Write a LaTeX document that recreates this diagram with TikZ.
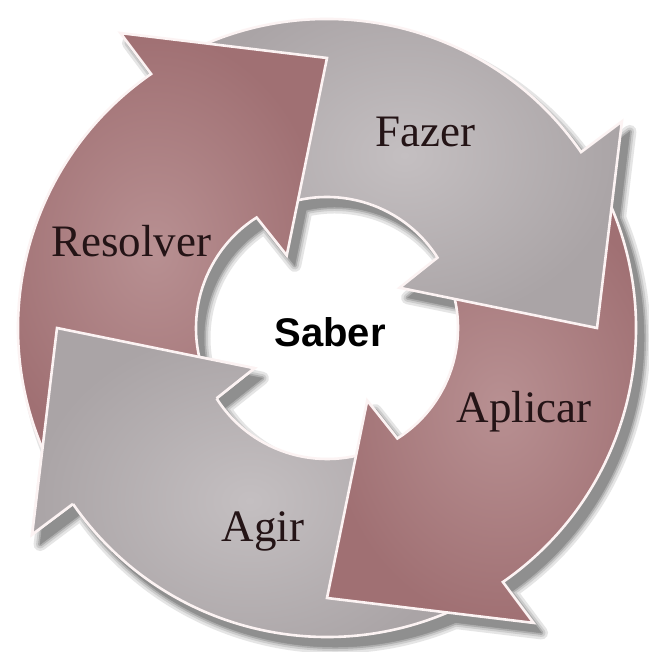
\documentclass[tikz,border=0pt]{standalone}
\usepackage{fontspec}
\setmainfont{Liberation Serif}
\newfontfamily\sabfont{Liberation Sans}
\usetikzlibrary{calc}
\definecolor{rosa}{RGB}{160,112,115}
\definecolor{rosain}{RGB}{184,144,146}
\definecolor{cinza}{RGB}{170,164,166}
\definecolor{cinzain}{RGB}{196,191,193}
\definecolor{contorno}{RGB}{252,243,243}
\definecolor{txtescuro}{RGB}{36,20,22}
\newcommand{\arrowshape}{(207:309) arc[start angle=207,end angle=124.7,radius=309] -- (125:360) -- (90:270) -- (119:83) -- (122.5:131) arc[start angle=122.5,end angle=207,radius=131] -- cycle}
\newcommand{\headshape}{(124.7:309) -- (125:360) -- (90:270) -- (119:83) -- (122.5:131) -- cycle}
\newcommand{\headedges}{(124.7:309) -- (125:360) -- (90:270) -- (119:83) -- (122.5:131)}
\tikzset{
  arrowbody/.style={draw=contorno, line width=2.6pt, line join=miter},
  labeltxt/.style={font=\fontsize{45}{50}\selectfont, text=txtescuro, anchor=base},
}
\newcommand{\drawarrow}[3]{%
  \begin{scope}[shift={(327,324)},rotate=#1]
    \shadedraw[arrowbody, inner color=#2, outer color=#3] \arrowshape;
  \end{scope}}
\begin{document}
\begin{tikzpicture}[x=1pt,y=1pt]
\fill[white] (0,0) rectangle (648,652);
\useasboundingbox (0,0) rectangle (648,652);
\coordinate (C) at (327,324);
% drop shadow
\foreach \w/\c in {13/10,8/20,4/32,0.5/44}{
  \foreach \r in {0,-90,-180,90}{
    \begin{scope}[shift={(335,314)},rotate=\r]
      \filldraw[fill=black!\c, draw=black!\c, line width=\w pt, line join=round] \arrowshape;
    \end{scope}
  }
}
% arrows
\drawarrow{90}{cinzain}{cinza}
\drawarrow{-180}{rosain}{rosa}
\drawarrow{-90}{cinzain}{cinza}
\drawarrow{0}{rosain}{rosa}
% Agir head back on top of the Resolver tail
\begin{scope}[shift={(327,324)},rotate=90]
  \begin{scope}
    \clip \headshape;
    \shade[inner color=cinzain, outer color=cinza] \arrowshape;
  \end{scope}
  \draw[arrowbody] \headedges;
\end{scope}
% labels
\node[labeltxt] (resolver) at (131,395) {Resolver};
\node[labeltxt] (fazer) at (425,505) {Fazer};
\node[labeltxt] (aplicar) at (524,229) {Aplicar};
\node[labeltxt] (agir) at (263,110) {Agir};
\node[font=\sabfont\bfseries\fontsize{40}{46}\selectfont, anchor=base] (saber) at (330,305) {Saber};
\end{tikzpicture}
\end{document}
